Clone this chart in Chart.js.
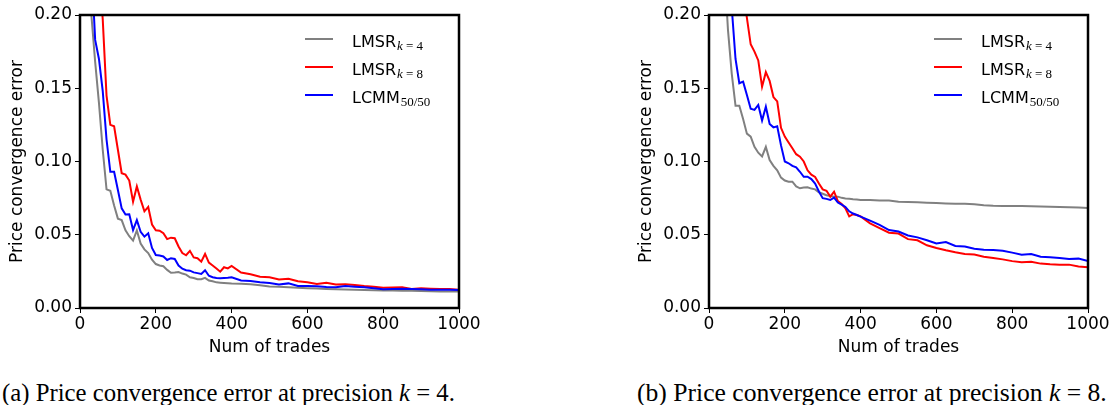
<!DOCTYPE html>
<html>
<head>
<meta charset="utf-8">
<script src="https://cdn.jsdelivr.net/npm/chart.js@4.4.0/dist/chart.umd.min.js"></script>
<style>
body { margin:0; background:#fff; width:1116px; height:405px; position:relative; overflow:hidden; }
canvas { position:absolute; top:0; }
#cA { left:0; }
#cB { left:629px; }
.cap { position:absolute; font-family:"Liberation Serif", serif; font-size:21px; white-space:nowrap; line-height:1; color:#000; }
</style>
</head>
<body>
<canvas id="cA" width="540" height="365"></canvas>
<canvas id="cB" width="487" height="365"></canvas>
<div class="cap" id="capA">(a) Price convergence error at precision <i>k</i> = 4.</div>
<div class="cap" id="capB">(b) Price convergence error at precision <i>k</i> = 8.</div>
<script>
// number of trades (x), every 10 up to 400, then every 25
var trades = [10,20,30,40,50,60,70,80,90,100,110,120,130,140,150,160,170,180,190,200,
  210,220,230,240,250,260,270,280,290,300,310,320,330,340,350,360,370,380,390,400,
  425,450,475,500,525,550,575,600,625,650,675,700,725,750,775,800,825,850,875,900,925,950,975,1000];

// (a) precision k = 4
var lmsr4A = [0.42,0.28,0.20,0.168,0.14,0.108,0.081,0.080,0.070,0.061,0.060,0.053,0.049,0.046,0.053,0.044,0.040,0.0375,0.033,0.030,
  0.029,0.0285,0.026,0.024,0.0242,0.0245,0.0235,0.0228,0.021,0.0205,0.0196,0.0196,0.0206,0.0188,0.0182,0.0175,0.0173,0.0171,0.0169,0.0167,
  0.0165,0.0162,0.0156,0.0146,0.0145,0.0141,0.0138,0.0135,0.0133,0.013,0.0128,0.0127,0.0125,0.0123,0.0122,0.012,0.0119,0.0118,0.0117,0.0116,0.0114,0.0113,0.0113,0.0112];
var lmsr8A = [0.65,0.48,0.35,0.28,0.232,0.197,0.145,0.125,0.124,0.108,0.092,0.091,0.087,0.0726,0.083,0.074,0.066,0.069,0.057,0.053,
  0.0528,0.051,0.047,0.048,0.0476,0.042,0.0375,0.036,0.039,0.0345,0.034,0.0316,0.0369,0.031,0.029,0.027,0.0248,0.0278,0.027,0.0287,
  0.0242,0.023,0.0213,0.021,0.0195,0.020,0.0182,0.0175,0.0164,0.0173,0.016,0.0162,0.0157,0.015,0.0145,0.0139,0.014,0.0141,0.013,0.0135,0.0132,0.013,0.013,0.0125];
var lcmmA = [0.48,0.32,0.235,0.183,0.170,0.148,0.115,0.093,0.093,0.0805,0.068,0.0638,0.064,0.0532,0.060,0.052,0.0487,0.051,0.041,0.0362,
  0.0358,0.0352,0.0328,0.034,0.0335,0.029,0.0268,0.0258,0.0255,0.0243,0.0238,0.0232,0.0258,0.022,0.021,0.0205,0.0203,0.0205,0.0207,0.021,
  0.0188,0.0184,0.0175,0.017,0.016,0.0168,0.015,0.015,0.0148,0.0143,0.0141,0.015,0.0145,0.0141,0.0135,0.0128,0.013,0.0132,0.013,0.0128,0.0125,0.0125,0.0124,0.0123];

// (b) precision k = 8
var lmsr4B = [0.6,0.42,0.31,0.235,0.19,0.16,0.138,0.138,0.129,0.119,0.117,0.11,0.106,0.1035,0.110,0.101,0.097,0.094,0.089,0.087,
  0.0862,0.0862,0.083,0.0817,0.0822,0.0824,0.0815,0.081,0.079,0.078,0.077,0.0765,0.076,0.076,0.0752,0.0748,0.0745,0.0742,0.074,0.0738,
  0.0737,0.0734,0.0733,0.0726,0.0723,0.0721,0.0719,0.0716,0.0714,0.0712,0.0711,0.0708,0.0702,0.0698,0.0696,0.0696,0.0696,0.0694,0.0692,0.0691,0.0689,0.0687,0.0686,0.0683];
var lmsr8B = [0.9,0.7,0.55,0.45,0.37,0.31,0.27,0.24,0.215,0.198,0.18,0.175,0.169,0.151,0.161,0.155,0.144,0.141,0.123,0.117,
  0.113,0.109,0.105,0.1033,0.1,0.094,0.091,0.0895,0.085,0.081,0.080,0.076,0.0794,0.073,0.071,0.068,0.0625,0.064,0.0635,0.0625,
  0.0578,0.0545,0.0514,0.0508,0.047,0.0462,0.0428,0.041,0.0394,0.038,0.0368,0.0365,0.035,0.0342,0.0332,0.032,0.0312,0.0315,0.0303,0.0298,0.0296,0.0296,0.0283,0.0278];
var lcmmB = [0.7,0.5,0.37,0.29,0.24,0.205,0.17,0.1534,0.1545,0.1454,0.136,0.1352,0.1386,0.128,0.1374,0.1256,0.1233,0.124,0.111,0.100,
  0.0988,0.097,0.096,0.093,0.0896,0.0896,0.088,0.085,0.0795,0.075,0.0745,0.0737,0.0753,0.072,0.0705,0.069,0.066,0.0645,0.0635,0.0624,
  0.0596,0.0568,0.0532,0.0522,0.0495,0.0482,0.0462,0.0441,0.045,0.0423,0.042,0.0404,0.0398,0.0396,0.039,0.0378,0.0364,0.0368,0.035,0.0347,0.0342,0.0334,0.0337,0.0321];

var xTitle = 'Num of trades';
var yTitle = 'Price convergence error';
var legendNames = [
  {main: 'LMSR', sub: [['k', true], [' = 4', false]], color: '#808080'},
  {main: 'LMSR', sub: [['k', true], [' = 8', false]], color: '#ff0000'},
  {main: 'LCMM', sub: [['50/50', false]], color: '#0000ff'}
];

Chart.defaults.font.family = '"DejaVu Sans", sans-serif';
Chart.defaults.color = '#000';
var axisFont = {size: 17, family: '"DejaVu Sans", sans-serif'};

var framePlugin = {
  id: 'frame',
  afterDatasetsDraw: function (chart) {
    var a = chart.chartArea, ctx = chart.ctx;
    ctx.save();
    ctx.strokeStyle = '#000';
    ctx.lineWidth = 2.5;
    ctx.strokeRect(a.left, a.top, a.right - a.left, a.bottom - a.top);
    ctx.restore();
  }
};

var legendPlugin = {
  id: 'mathLegend',
  afterDraw: function (chart) {
    var a = chart.chartArea, ctx = chart.ctx;
    ctx.save();
    legendNames.forEach(function (item, i) {
      var y = a.top + 24 + i * 28;
      ctx.strokeStyle = item.color;
      ctx.lineWidth = 2;
      ctx.beginPath();
      ctx.moveTo(a.right - 154, y);
      ctx.lineTo(a.right - 126, y);
      ctx.stroke();
      var x = a.right - 107;
      ctx.fillStyle = '#000';
      ctx.textBaseline = 'alphabetic';
      ctx.font = '16px "DejaVu Sans"';
      ctx.fillText(item.main, x, y + 7.5);
      x += ctx.measureText(item.main).width + 1;
      item.sub.forEach(function (p) {
        ctx.font = (p[1] ? 'italic ' : '') + '13px "Liberation Serif"';
        ctx.fillText(p[0], x, y + 10.5);
        x += ctx.measureText(p[0]).width;
      });
    });
    ctx.restore();
  }
};

function pts(vals) {
  return trades.map(function (t, i) { return {x: t, y: vals[i]}; });
}

function makeChart(id, gray, red, blue, rightPad) {
  var ctx = document.getElementById(id).getContext('2d');
  return new Chart(ctx, {
    type: 'line',
    data: {
      datasets: [
        {data: pts(blue), borderColor: '#0000ff', order: 0},
        {data: pts(red), borderColor: '#ff0000', order: 1},
        {data: pts(gray), borderColor: '#808080', order: 2}
      ]
    },
    options: {
      responsive: false,
      animation: false,
      devicePixelRatio: 1,
      layout: {padding: {top: 15, right: rightPad, left: 0, bottom: 0}},
      elements: {point: {radius: 0}, line: {borderWidth: 2, tension: 0, fill: false}},
      plugins: {legend: {display: false}, tooltip: {enabled: false}},
      scales: {
        x: {
          type: 'linear', min: 0, max: 1000,
          ticks: {stepSize: 200, font: axisFont, padding: 1, maxRotation: 0, color: '#000',
            callback: function (v) { return String(v); }},
          grid: {drawOnChartArea: false, tickLength: 5, color: '#000'},
          border: {display: false},
          title: {display: true, text: xTitle, font: axisFont, color: '#000', padding: {top: 0, bottom: 7}},
          afterFit: function (s) { s.height = 57; }
        },
        y: {
          min: 0, max: 0.2,
          ticks: {stepSize: 0.05, font: axisFont, padding: 3, color: '#000',
            callback: function (v) { return v.toFixed(2); }},
          grid: {drawOnChartArea: false, tickLength: 5, color: '#000'},
          border: {display: false},
          title: {display: true, text: yTitle, font: axisFont, color: '#000', padding: {top: 7, bottom: 0}},
          afterFit: function (s) { s.width = 80; }
        }
      }
    },
    plugins: [framePlugin, legendPlugin]
  });
}

makeChart('cA', lmsr4A, lmsr8A, lcmmA, 81);
makeChart('cB', lmsr4B, lmsr8B, lcmmB, 28);

function fitCaption(id, left, width, cy) {
  var el = document.getElementById(id);
  el.style.left = left + 'px';
  var w = el.getBoundingClientRect().width;
  el.style.fontSize = (21 * width / w) + 'px';
  el.style.top = (cy - el.getBoundingClientRect().height / 2) + 'px';
}
fitCaption('capA', 2, 453, 393);
fitCaption('capB', 637, 470, 393);
</script>
</body>
</html>
